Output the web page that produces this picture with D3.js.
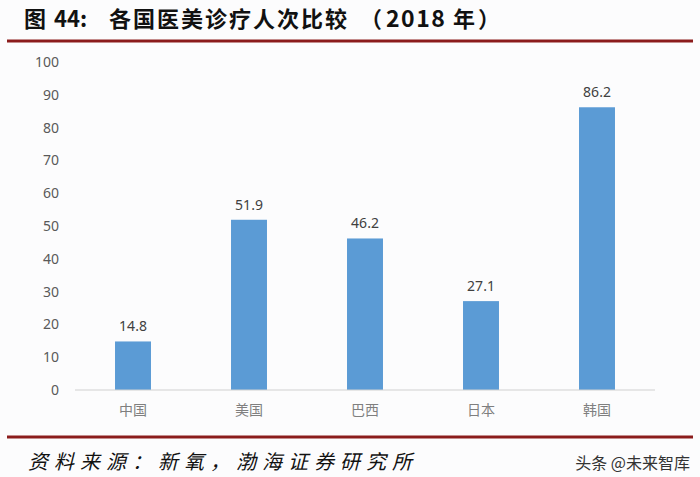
<!DOCTYPE html>
<html>
<head>
<meta charset="utf-8">
<script src="https://cdn.jsdelivr.net/npm/d3@7"></script>
<style>
  body { margin: 0; background: #fcfcfd; }
  svg { display: block; }
</style>
</head>
<body>
<script>
const countries = ["中国", "美国", "巴西", "日本", "韩国"];
const visits = [14.8, 51.9, 46.2, 27.1, 86.2];
const yTicks = [0, 10, 20, 30, 40, 50, 60, 70, 80, 90, 100];

const W = 700, H = 477;
const plot = { left: 75, right: 655, top: 62, bottom: 390 };

const svg = d3.select("body").append("svg")
  .attr("width", W).attr("height", H);

svg.append("rect").attr("width", W).attr("height", H).attr("fill", "#fcfcfd");

// title, pieces placed like the original layout
const title = svg.append("text")
  .attr("y", 27)
  .attr("font-family", "Noto Sans CJK SC")
  .attr("font-weight", "bold")
  .attr("font-size", 22)
  .attr("fill", "#111");
const titleParts = [
  { x: 24, t: "图" },
  { x: 54, t: "44:" },
  { x: 109, t: "各国医美诊疗人次比较", ls: 2 },
  { x: 360, t: "（" },
  { x: 386, t: "2018", ls: 1.5, fs: 23 },
  { x: 453, t: "年" },
  { x: 478, t: "）" }
];
title.selectAll("tspan")
  .data(titleParts)
  .join("tspan")
  .attr("x", d => d.x)
  .attr("letter-spacing", d => d.ls || 0)
  .attr("font-size", d => d.fs || 22)
  .text(d => d.t);

svg.append("line")
  .attr("x1", 7).attr("x2", 693).attr("y1", 41).attr("y2", 41)
  .attr("stroke", "#8b1c1c").attr("stroke-width", 3);

svg.append("line")
  .attr("x1", 7).attr("x2", 693).attr("y1", 437).attr("y2", 437)
  .attr("stroke", "#8b1c1c").attr("stroke-width", 3);

const x = d3.scaleBand()
  .domain(countries)
  .range([plot.left, plot.right])
  .paddingInner(0.69)
  .paddingOuter(0.345);

const y = d3.scaleLinear()
  .domain([0, 100])
  .range([plot.bottom, plot.top]);

// y axis labels
svg.append("g")
  .selectAll("text")
  .data(yTicks)
  .join("text")
  .attr("x", 59)
  .attr("y", d => y(d))
  .attr("dy", "0.35em")
  .attr("text-anchor", "end")
  .attr("font-family", "Noto Sans, sans-serif")
  .attr("font-size", 14)
  .attr("fill", "#595959")
  .text(d => d);

// bars
svg.append("g")
  .selectAll("rect")
  .data(visits)
  .join("rect")
  .attr("x", (d, i) => x(countries[i]))
  .attr("y", d => y(d))
  .attr("width", x.bandwidth())
  .attr("height", d => y(0) - y(d))
  .attr("fill", "#5b9bd5");

// value labels
svg.append("g")
  .selectAll("text")
  .data(visits)
  .join("text")
  .attr("x", (d, i) => x(countries[i]) + x.bandwidth() / 2)
  .attr("y", d => y(d) - 10)
  .attr("text-anchor", "middle")
  .attr("font-family", "Noto Sans, sans-serif")
  .attr("font-size", 14)
  .attr("fill", "#404040")
  .text(d => d.toFixed(1));

// baseline
svg.append("line")
  .attr("x1", plot.left).attr("x2", plot.right)
  .attr("y1", y(0)).attr("y2", y(0))
  .attr("stroke", "#d0d0d0").attr("stroke-width", 1);

// category labels
svg.append("g")
  .selectAll("text")
  .data(countries)
  .join("text")
  .attr("x", d => x(d) + x.bandwidth() / 2)
  .attr("y", 415)
  .attr("text-anchor", "middle")
  .attr("font-family", "Noto Sans CJK SC")
  .attr("font-size", 14)
  .attr("fill", "#7f7f7f")
  .text(d => d);

// source
svg.append("text")
  .attr("x", 28).attr("y", 469)
  .attr("font-family", "Noto Sans CJK SC")
  .attr("font-style", "italic")
  .attr("font-size", 20)
  .attr("fill", "#111")
  .attr("textLength", 384)
  .attr("lengthAdjust", "spacing")
  .text("资料来源：新氧，渤海证券研究所");

// watermark
svg.append("text")
  .attr("x", 690).attr("y", 469)
  .attr("text-anchor", "end")
  .attr("font-family", "Noto Sans CJK SC")
  .attr("font-size", 16)
  .attr("fill", "#333")
  .text("头条 @未来智库");
</script>
</body>
</html>
